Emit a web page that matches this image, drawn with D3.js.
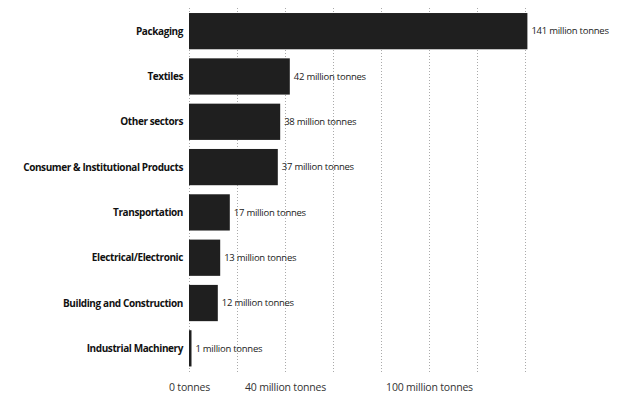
<!DOCTYPE html>
<meta charset="utf-8">
<style>

body { margin: 0; background: #fff; }

.grid line {
  stroke: #aaa;
  stroke-dasharray: 1,2;
}

.cat {
  font-family: "Open Sans", sans-serif;
  font-weight: bold;
  font-size: 10px;
  letter-spacing: -0.4px;
  fill: #111;
}

.val {
  font-family: "Open Sans", sans-serif;
  font-size: 9.5px;
  letter-spacing: -0.25px;
  fill: #1a1a1a;
}

.axis text {
  font-family: "Open Sans", sans-serif;
  font-size: 10.5px;
  letter-spacing: -0.2px;
  fill: #333;
}

</style>
<body>
<svg width="619" height="396"></svg>
</body>
<script src="https://d3js.org/d3.v7.min.js"></script>
<script>

var sectors = ["Packaging", "Textiles", "Other sectors", "Consumer & Institutional Products",
  "Transportation", "Electrical/Electronic", "Building and Construction", "Industrial Machinery"];
var tonnes = [141, 42, 38, 37, 17, 13, 12, 1];
var gridTicks = [0, 20, 40, 60, 80, 100, 120, 140];
var labelTicks = [0, 40, 100];
var tickLabels = ["0 tonnes", "40 million tonnes", "100 million tonnes"];

var svg = d3.select("svg");

var x = d3.scaleLinear().domain([0, 140]).range([189, 525]);
var y = d3.scaleBand().domain(sectors).range([8.5, 371]).paddingInner(0.2).paddingOuter(0.1);

// dotted vertical grid
svg.append("g")
    .attr("class", "grid")
  .selectAll("line")
  .data(gridTicks)
  .enter().append("line")
    .attr("x1", function(d) { return x(d) + 0.5; })
    .attr("x2", function(d) { return x(d) + 0.5; })
    .attr("y1", 8)
    .attr("y2", 374);

var data = sectors.map(function(s, i) { return { name: s, value: tonnes[i] }; });

svg.append("g")
  .selectAll("rect")
  .data(data)
  .enter().append("rect")
    .attr("x", x(0))
    .attr("y", function(d) { return y(d.name); })
    .attr("width", function(d) { return Math.max(2.5, x(d.value) - x(0)); })
    .attr("height", y.bandwidth())
    .attr("fill", "#1f1f1f");

svg.append("g")
  .selectAll("text")
  .data(data)
  .enter().append("text")
    .attr("class", "cat")
    .attr("x", x(0) - 6)
    .attr("y", function(d) { return y(d.name) + y.bandwidth() / 2; })
    .attr("dy", ".35em")
    .attr("text-anchor", "end")
    .text(function(d) { return d.name; });

svg.append("g")
  .selectAll("text")
  .data(data)
  .enter().append("text")
    .attr("class", "val")
    .attr("x", function(d) { return Math.max(x(d.value), x(0) + 2) + 4; })
    .attr("y", function(d) { return y(d.name) + y.bandwidth() / 2; })
    .attr("dy", ".35em")
    .text(function(d) { return d.value + " million tonnes"; });

var axis = d3.axisBottom(x)
    .tickValues(labelTicks)
    .tickSize(0)
    .tickPadding(0)
    .tickFormat(function(d, i) { return tickLabels[i]; });

svg.append("g")
    .attr("class", "axis")
    .attr("transform", "translate(0,384)")
    .call(axis)
    .call(function(g) { g.select(".domain").remove(); });

</script>
</html>
